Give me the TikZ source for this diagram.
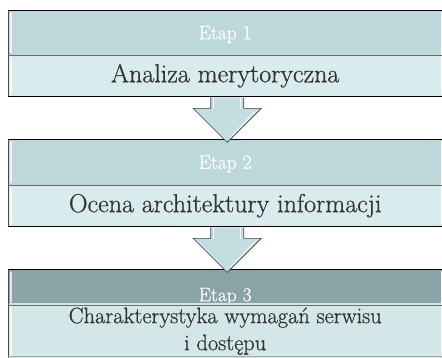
\documentclass[tikz,border=0pt]{standalone}
\usepackage{fontspec}
\setmainfont{Latin Modern Roman}[FakeBold=0.7]
\usetikzlibrary{calc}
\definecolor{hdr}{HTML}{BDD8DB}
\definecolor{hdrdark}{HTML}{88A4A6}
\definecolor{bdy}{HTML}{D8EBED}
\definecolor{bdythree}{HTML}{D3E7E9}
\definecolor{arw}{HTML}{C3DDE0}
\definecolor{txt}{HTML}{333333}
\begin{document}
\begin{tikzpicture}[x=1pt,y=-1pt,
  panel/.style={rectangle, inner sep=0pt, anchor=north west, minimum width=434pt},
  hdrbox/.style={panel, fill=hdr, text=white, text height=16.8pt, font=\fontsize{19.5}{22}\selectfont},
  bdybox/.style={panel, fill=bdy, text=txt, font=\fontsize{26}{30}\selectfont},
  topline/.style={black, line width=0.9pt},
  divline/.style={gray!85!black, line width=0.9pt},
  botline/.style={black, line width=1.6pt},
  leftline/.style={gray!60!black, line width=1pt},
  gloss/.style={white, line width=1.2pt, opacity=0.75, line cap=round},
  arrowfill/.style={fill=arw},
  arrowline/.style={draw=black!75, line width=0.6pt, line join=miter}
]
\useasboundingbox (0,0) rectangle (442,358);
\clip (0,0) rectangle (442,358);
\fill[white] (0,0) rectangle (442,358);

% Stage 1
\node[hdrbox, minimum height=45pt] (h1) at (8,10) {Etap 1};
\node[bdybox, minimum height=41pt] (b1) at (8,55) {Analiza merytoryczna};
% Stage 2
\node[hdrbox, minimum height=46pt] (h2) at (8,139) {Etap 2};
\node[bdybox, minimum height=41pt] (b2) at (8,185) {Ocena architektury informacji};
% Stage 3
\node[hdrbox, fill=hdrdark, minimum height=34pt, text height=32pt] (h3) at (8,269) {Etap 3};
\node[bdybox, fill=bdythree, minimum height=56pt, align=center,
      font=\fontsize{22.4}{27}\selectfont] (b3) at (8,303)
      {Charakterystyka wymagań serwisu\\i dostępu};

% borders and gloss
\foreach \h/\b in {h1/b1, h2/b2, h3/b3} {
  \draw[leftline] (\h.north west) -- (\b.south west);
  \draw[gloss] ($(\h.north west)+(3,3)$) -- ($(\h.south west)+(3,-3)$);
  \draw[gloss] ($(\b.north west)+(3,3)$) -- ($(\b.south west)+(3,-3)$);
  \draw[white, line width=0.8pt] ($(\h.north east)+(-1,2)$) -- ($(\b.south east)+(-1,-2)$);
  \draw[topline] (\h.north west) -- (\h.north east);
  \draw[divline] (\h.south west) -- (\h.south east);
}
\draw[botline] (b1.south west) -- (b1.south east);
\draw[botline] (b2.south west) -- (b2.south east);
\draw[gray!70, line width=0.6pt] ($(b3.south west)+(0,-3)$) -- ($(b3.south east)+(0,-3)$);

% block arrows
\foreach \b in {b1, b2} {
  \coordinate (t) at ($(\b.south)+(2,1)$);
  \fill[arrowfill] ($(t)+(-16.5,0)$) -- ($(t)+(-16.5,11)$) -- ($(t)+(-34,11)$)
     -- ($(t)+(0,45)$) -- ($(t)+(34,11)$) -- ($(t)+(16.5,11)$) -- ($(t)+(16.5,0)$) -- cycle;
  \draw[white, line width=1pt, opacity=0.8] ($(t)+(-13.5,0)$) -- ($(t)+(-13.5,12)$);
  \draw[white, line width=1pt, opacity=0.8] ($(t)+(13.5,0)$) -- ($(t)+(13.5,12)$);
  \draw[white, line width=1.2pt, opacity=0.7] ($(t)+(28,14)$) -- ($(t)+(3,40)$);
  \draw[arrowline] ($(t)+(-16.5,0)$) -- ($(t)+(-16.5,11)$) -- ($(t)+(-34,11)$)
     -- ($(t)+(0,45)$) -- ($(t)+(34,11)$) -- ($(t)+(16.5,11)$) -- ($(t)+(16.5,0)$);
}
\end{tikzpicture}
\end{document}
